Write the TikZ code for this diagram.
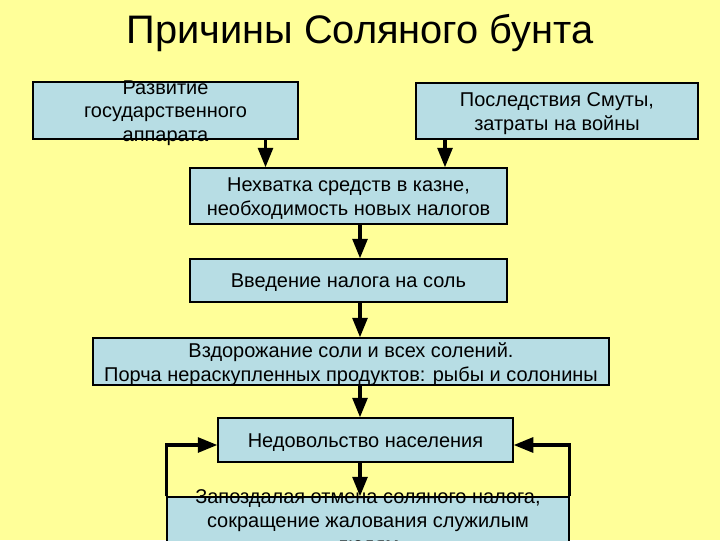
\documentclass[tikz,border=0pt]{standalone}
\usepackage{fontspec}
\setmainfont{Liberation Sans}
\usetikzlibrary{arrows.meta}
\definecolor{bgyellow}{RGB}{255,255,153}
\definecolor{boxblue}{RGB}{183,221,228}

\begin{document}
\begin{tikzpicture}[x=0.025cm,y=-0.025cm,
blk/.style={draw, fill=boxblue, line width=0.8pt, inner sep=0},
txt/.style={align=center, font=\fontsize{14.2}{16.8}\selectfont, inner sep=0, yshift=-0.06cm},
arr/.style={line width=2.6pt, -{Triangle[length=14pt,width=10.5pt]}}]
	\fill[bgyellow] (0,0) rectangle (720,540);
	\useasboundingbox (0,0) rectangle (720,540);
	\clip (0,0) rectangle (720,540);
	\node[font=\fontsize{28.3}{32}\selectfont] at (360,33) (title) {Причины Соляного бунта};

	\node[blk, minimum width=265*0.025cm, minimum height=57*0.025cm] at (165.5,110.5) (dev) {};
	\node[txt] at (dev.center) (devt) {Развитие\\государственного\\аппарата};
	\node[blk, minimum width=282*0.025cm, minimum height=56*0.025cm] at (557,111) (smuta) {};
	\node[txt] at (smuta.center) (smutat) {Последствия Смуты,\\затраты на войны};
	\node[blk, minimum width=317*0.025cm, minimum height=56*0.025cm] at (348.5,196) (lack) {};
	\node[txt] at (lack.center) (lackt) {Нехватка средств в казне,\\необходимость новых налогов};
	\node[blk, minimum width=317*0.025cm, minimum height=43*0.025cm] at (348.5,280.5) (tax) {};
	\node[txt] at (tax.center) (taxt) {Введение налога на соль};
	\node[blk, minimum width=516*0.025cm, minimum height=47*0.025cm] at (351,361.5) (price) {};
	\node[txt] at (price.center) (pricet) {Вздорожание соли и всех солений.\\Порча нераскупленных продуктов: рыбы и солонины};
	\node[blk, minimum width=295*0.025cm, minimum height=44*0.025cm] at (365.5,440) (anger) {};
	\node[txt] at (anger.center) (angert) {Недовольство населения};
	\node[blk, minimum width=402*0.025cm, minimum height=66*0.025cm] at (368,530) (cancel) {};
	\node[txt] at (368,520) (cancelt) {Запоздалая отмена соляного налога,\\сокращение жалования служилым\\людям};

	\draw[arr] ([xshift=100*0.025cm]dev.south) -- ([xshift=100*0.025cm]dev.south |- lack.north);
	\draw[arr] ([xshift=-112*0.025cm]smuta.south) -- ([xshift=-112*0.025cm]smuta.south |- lack.north);
	\draw[arr] ([xshift=11.5*0.025cm]lack.south) -- ([xshift=11.5*0.025cm]lack.south |- tax.north);
	\draw[arr] ([xshift=11.5*0.025cm]tax.south) -- ([xshift=11.5*0.025cm]tax.south |- price.north);
	\draw[arr] ([xshift=9*0.025cm]price.south) -- ([xshift=9*0.025cm]price.south |- anger.north);
	\draw[arr] ([xshift=-5.5*0.025cm]anger.south) -- ([xshift=-5.5*0.025cm]anger.south |- cancel.north);
	\draw[arr] (cancel.north west) |- ([yshift=-5*0.025cm]anger.west);
	\draw[arr] (cancel.north east) |- ([yshift=-5*0.025cm]anger.east);
\end{tikzpicture}
\end{document}
